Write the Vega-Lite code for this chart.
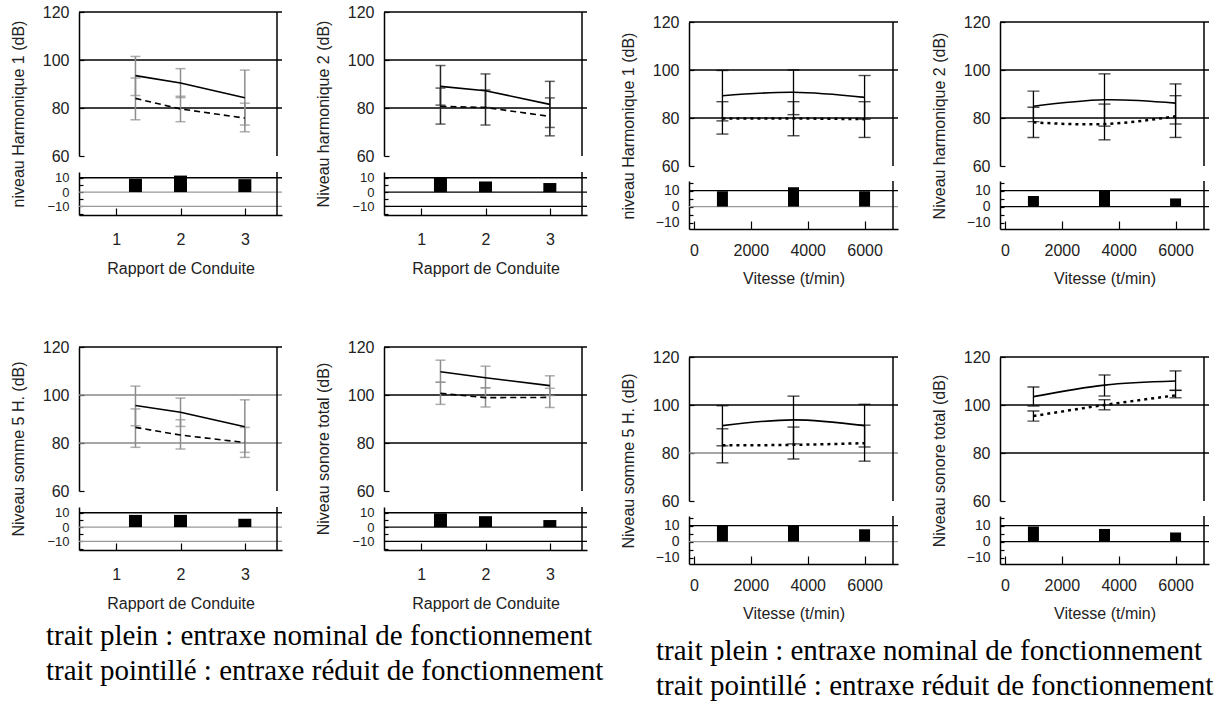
{
"$schema": "https://vega.github.io/schema/vega-lite/v6.json",
"autosize": {"type": "pad"},
"padding": {"left": 10, "top": 4, "right": 0, "bottom": 0},
"background": "white",
"data": {"values": [{}]},
"datasets": {
"mesures": [
{"panneau": "H1_R", "trait": "plein", "x": 1.3, "niveau": 93.5, "bas": 85.2, "haut": 101.5},
{"panneau": "H1_R", "trait": "plein", "x": 2, "niveau": 90.4, "bas": 84.3, "haut": 96.4},
{"panneau": "H1_R", "trait": "plein", "x": 3, "niveau": 84.3, "bas": 72.9, "haut": 95.8},
{"panneau": "H1_R", "trait": "pointillé", "x": 1.3, "niveau": 84, "bas": 75.1, "haut": 92.5},
{"panneau": "H1_R", "trait": "pointillé", "x": 2, "niveau": 79.6, "bas": 74.3, "haut": 84.9},
{"panneau": "H1_R", "trait": "pointillé", "x": 3, "niveau": 75.8, "bas": 70.1, "haut": 82},
{"panneau": "H2_R", "trait": "plein", "x": 1.3, "niveau": 89, "bas": 81.2, "haut": 97.7},
{"panneau": "H2_R", "trait": "plein", "x": 2, "niveau": 87.2, "bas": 80.2, "haut": 94.2},
{"panneau": "H2_R", "trait": "plein", "x": 3, "niveau": 81.5, "bas": 71.9, "haut": 91.1},
{"panneau": "H2_R", "trait": "pointillé", "x": 1.3, "niveau": 80.7, "bas": 73.3, "haut": 88.3},
{"panneau": "H2_R", "trait": "pointillé", "x": 2, "niveau": 80.2, "bas": 72.9, "haut": 87.5},
{"panneau": "H2_R", "trait": "pointillé", "x": 3, "niveau": 76.5, "bas": 68.4, "haut": 84.2},
{"panneau": "S5_R", "trait": "plein", "x": 1.3, "niveau": 95.6, "bas": 87.2, "haut": 103.7},
{"panneau": "S5_R", "trait": "plein", "x": 2, "niveau": 92.8, "bas": 86.9, "haut": 98.7},
{"panneau": "S5_R", "trait": "plein", "x": 3, "niveau": 86.8, "bas": 76.1, "haut": 98},
{"panneau": "S5_R", "trait": "pointillé", "x": 1.3, "niveau": 86.5, "bas": 78.2, "haut": 94.2},
{"panneau": "S5_R", "trait": "pointillé", "x": 2, "niveau": 83.3, "bas": 77.5, "haut": 89.7},
{"panneau": "S5_R", "trait": "pointillé", "x": 3, "niveau": 80.2, "bas": 74, "haut": 86.5},
{"panneau": "T_R", "trait": "plein", "x": 1.3, "niveau": 109.7, "bas": 105.3, "haut": 114.5},
{"panneau": "T_R", "trait": "plein", "x": 2, "niveau": 107.2, "bas": 103, "haut": 112},
{"panneau": "T_R", "trait": "plein", "x": 3, "niveau": 103.9, "bas": 99.8, "haut": 108},
{"panneau": "T_R", "trait": "pointillé", "x": 1.3, "niveau": 100.7, "bas": 96.1, "haut": 105.3},
{"panneau": "T_R", "trait": "pointillé", "x": 2, "niveau": 98.9, "bas": 95, "haut": 103},
{"panneau": "T_R", "trait": "pointillé", "x": 3, "niveau": 99, "bas": 94.8, "haut": 102.8},
{"panneau": "H1_V", "trait": "plein", "x": 1000, "niveau": 89.3, "bas": 78.8, "haut": 99.8},
{"panneau": "H1_V", "trait": "plein", "x": 3500, "niveau": 90.7, "bas": 81.4, "haut": 100},
{"panneau": "H1_V", "trait": "plein", "x": 6000, "niveau": 88.6, "bas": 79.5, "haut": 97.7},
{"panneau": "H1_V", "trait": "pointillé", "x": 1000, "niveau": 79.8, "bas": 73.3, "haut": 86.8},
{"panneau": "H1_V", "trait": "pointillé", "x": 3500, "niveau": 79.8, "bas": 72.6, "haut": 86.8},
{"panneau": "H1_V", "trait": "pointillé", "x": 6000, "niveau": 79.5, "bas": 71.9, "haut": 86.8},
{"panneau": "H2_V", "trait": "plein", "x": 1000, "niveau": 84.9, "bas": 78.5, "haut": 91.2},
{"panneau": "H2_V", "trait": "plein", "x": 3500, "niveau": 87.6, "bas": 76.6, "haut": 98.4},
{"panneau": "H2_V", "trait": "plein", "x": 6000, "niveau": 86.2, "bas": 77.5, "haut": 94.2},
{"panneau": "H2_V", "trait": "pointillé", "x": 1000, "niveau": 78.2, "bas": 71.9, "haut": 84.5},
{"panneau": "H2_V", "trait": "pointillé", "x": 3500, "niveau": 77.5, "bas": 70.9, "haut": 85.8},
{"panneau": "H2_V", "trait": "pointillé", "x": 6000, "niveau": 80.7, "bas": 71.9, "haut": 89.3},
{"panneau": "S5_V", "trait": "plein", "x": 1000, "niveau": 91.4, "bas": 83, "haut": 99.7},
{"panneau": "S5_V", "trait": "plein", "x": 3500, "niveau": 93.8, "bas": 83.8, "haut": 103.7},
{"panneau": "S5_V", "trait": "plein", "x": 6000, "niveau": 91.4, "bas": 82.5, "haut": 100.3},
{"panneau": "S5_V", "trait": "pointillé", "x": 1000, "niveau": 83.2, "bas": 75.9, "haut": 90.1},
{"panneau": "S5_V", "trait": "pointillé", "x": 3500, "niveau": 83.4, "bas": 77.5, "haut": 90.8},
{"panneau": "S5_V", "trait": "pointillé", "x": 6000, "niveau": 84.1, "bas": 76.6, "haut": 91.6},
{"panneau": "T_V", "trait": "plein", "x": 1000, "niveau": 103.5, "bas": 99.6, "haut": 107.5},
{"panneau": "T_V", "trait": "plein", "x": 3500, "niveau": 108.3, "bas": 103.75, "haut": 112.5},
{"panneau": "T_V", "trait": "plein", "x": 6000, "niveau": 110, "bas": 106.1, "haut": 114.2},
{"panneau": "T_V", "trait": "pointillé", "x": 1000, "niveau": 95.4, "bas": 93.3, "haut": 97.5},
{"panneau": "T_V", "trait": "pointillé", "x": 3500, "niveau": 100, "bas": 98, "haut": 102.2},
{"panneau": "T_V", "trait": "pointillé", "x": 6000, "niveau": 104, "bas": 103, "haut": 106.1}
],
"ecarts": [
{"panneau": "H1_R", "x": 1.3, "ecart": 9.3},
{"panneau": "H1_R", "x": 2, "ecart": 11.5},
{"panneau": "H1_R", "x": 3, "ecart": 9.0},
{"panneau": "H2_R", "x": 1.3, "ecart": 9.8},
{"panneau": "H2_R", "x": 2, "ecart": 7.4},
{"panneau": "H2_R", "x": 3, "ecart": 6.3},
{"panneau": "S5_R", "x": 1.3, "ecart": 8.5},
{"panneau": "S5_R", "x": 2, "ecart": 8.5},
{"panneau": "S5_R", "x": 3, "ecart": 5.8},
{"panneau": "T_R", "x": 1.3, "ecart": 9.6},
{"panneau": "T_R", "x": 2, "ecart": 7.6},
{"panneau": "T_R", "x": 3, "ecart": 4.9},
{"panneau": "H1_V", "x": 1000, "ecart": 9.6},
{"panneau": "H1_V", "x": 3500, "ecart": 12.1},
{"panneau": "H1_V", "x": 6000, "ecart": 9.6},
{"panneau": "H2_V", "x": 1000, "ecart": 6.7},
{"panneau": "H2_V", "x": 3500, "ecart": 10},
{"panneau": "H2_V", "x": 6000, "ecart": 5.1},
{"panneau": "S5_V", "x": 1000, "ecart": 9.8},
{"panneau": "S5_V", "x": 3500, "ecart": 9.8},
{"panneau": "S5_V", "x": 6000, "ecart": 7.7},
{"panneau": "T_V", "x": 1000, "ecart": 9.4},
{"panneau": "T_V", "x": 3500, "ecart": 7.9},
{"panneau": "T_V", "x": 6000, "ecart": 5.7}
]
},
"config": {
"view": {"stroke": null},
"axis": {"domainColor": "black", "domainWidth": 1.5, "tickColor": "black", "tickWidth": 1.2, "labelFont": "Liberation Sans", "labelFontSize": 16, "labelColor": "#222", "titleFont": "Liberation Sans", "titleFontSize": 16, "titleFontWeight": "normal", "titleColor": "#222", "grid": false},
"title": {"font": "Liberation Sans", "fontSize": 16, "fontWeight": "normal", "color": "#222"}
},
"columns": 4,
"spacing": {"row": 118, "column": 102},
"bounds": "flush",
"align": "each",
"concat": [
{"width": 203, "height": 203, "resolve": {"scale": {"y": "independent"}, "axis": {"y": "independent"}},
"layer": [
{"layer": [
{"mark": {"type": "rule", "color": "black", "strokeWidth": 1.3}, "encoding": {"y": {"datum": 100, "type": "quantitative", "scale": {"domain": [60, 120], "range": [144, 0], "nice": false, "zero": false}}}},
{"mark": {"type": "rule", "color": "black", "strokeWidth": 1.3}, "encoding": {"y": {"datum": 80, "type": "quantitative", "scale": {"domain": [60, 120], "range": [144, 0], "nice": false, "zero": false}}}},
{"mark": {"type": "rule", "color": "black", "strokeWidth": 1.5}, "encoding": {"y": {"datum": 120, "type": "quantitative", "scale": {"domain": [60, 120], "range": [144, 0], "nice": false, "zero": false}}}},
{"mark": {"type": "rule", "color": "black", "strokeWidth": 1.5}, "encoding": {"x": {"datum": 3.5, "type": "quantitative", "scale": {"domain": [0.5, 3.5], "nice": false, "zero": false}}, "y": {"datum": 60, "type": "quantitative", "scale": {"domain": [60, 120], "range": [144, 0], "nice": false, "zero": false}}, "y2": {"datum": 120}}},
{"data": {"name": "mesures"}, "transform": [{"filter": "datum.panneau === 'H1_R'"}], "mark": {"type": "rule", "color": "#8c8c8c", "strokeWidth": 1.5}, "encoding": {"x": {"field": "x", "type": "quantitative", "scale": {"domain": [0.5, 3.5], "nice": false, "zero": false}}, "y": {"field": "bas", "type": "quantitative", "scale": {"domain": [60, 120], "range": [144, 0], "nice": false, "zero": false}, "axis": {"orient": "left", "values": [60,65,70,75,80,85,90,95,100,105,110,115,120], "format": "d", "labelExpr": "datum.value % 20 === 0 ? datum.label : ''", "tickSize": -5, "labelPadding": 15, "title": "niveau Harmonique 1 (dB)", "titleY": 101.5, "titlePadding": 16, "labelFlush": false, "labelOverlap": false}}, "y2": {"field": "haut"}}},
{"data": {"name": "mesures"}, "transform": [{"filter": "datum.panneau === 'H1_R'"}], "mark": {"type": "tick", "orient": "horizontal", "size": 10, "thickness": 1.5, "color": "#8c8c8c"}, "encoding": {"x": {"field": "x", "type": "quantitative", "scale": {"domain": [0.5, 3.5], "nice": false, "zero": false}}, "y": {"field": "bas", "type": "quantitative", "scale": {"domain": [60, 120], "range": [144, 0], "nice": false, "zero": false}}}},
{"data": {"name": "mesures"}, "transform": [{"filter": "datum.panneau === 'H1_R'"}], "mark": {"type": "tick", "orient": "horizontal", "size": 10, "thickness": 1.5, "color": "#8c8c8c"}, "encoding": {"x": {"field": "x", "type": "quantitative", "scale": {"domain": [0.5, 3.5], "nice": false, "zero": false}}, "y": {"field": "haut", "type": "quantitative", "scale": {"domain": [60, 120], "range": [144, 0], "nice": false, "zero": false}}}},
{"data": {"name": "mesures"}, "transform": [{"filter": "datum.panneau === 'H1_R' && datum.trait === 'plein'"}], "mark": {"type": "line", "color": "black", "strokeWidth": 1.6}, "encoding": {"x": {"field": "x", "type": "quantitative", "scale": {"domain": [0.5, 3.5], "nice": false, "zero": false}}, "y": {"field": "niveau", "type": "quantitative", "scale": {"domain": [60, 120], "range": [144, 0], "nice": false, "zero": false}}}},
{"data": {"name": "mesures"}, "transform": [{"filter": "datum.panneau === 'H1_R' && datum.trait === 'pointillé'"}], "mark": {"type": "line", "color": "black", "strokeWidth": 1.6, "strokeDash": [6, 4]}, "encoding": {"x": {"field": "x", "type": "quantitative", "scale": {"domain": [0.5, 3.5], "nice": false, "zero": false}}, "y": {"field": "niveau", "type": "quantitative", "scale": {"domain": [60, 120], "range": [144, 0], "nice": false, "zero": false}}}}
]},
{"layer": [
{"mark": {"type": "rule", "color": "black", "strokeWidth": 1.3}, "encoding": {"y": {"datum": 10, "type": "quantitative", "scale": {"domain": [-16, 14], "range": [203, 160], "nice": false, "zero": false}}}},
{"mark": {"type": "rule", "color": "#999", "strokeWidth": 1.3}, "encoding": {"y": {"datum": 0, "type": "quantitative", "scale": {"domain": [-16, 14], "range": [203, 160], "nice": false, "zero": false}}}},
{"mark": {"type": "rule", "color": "#999", "strokeWidth": 1.3}, "encoding": {"y": {"datum": -10, "type": "quantitative", "scale": {"domain": [-16, 14], "range": [203, 160], "nice": false, "zero": false}}}},
{"mark": {"type": "rule", "color": "black", "strokeWidth": 1.5}, "encoding": {"x": {"datum": 3.5, "type": "quantitative", "scale": {"domain": [0.5, 3.5], "nice": false, "zero": false}}, "y": {"datum": -16, "type": "quantitative", "scale": {"domain": [-16, 14], "range": [203, 160], "nice": false, "zero": false}}, "y2": {"datum": 14}}},
{"data": {"name": "ecarts"}, "transform": [{"filter": "datum.panneau === 'H1_R'"}], "mark": {"type": "bar", "color": "black", "size": 13}, "encoding": {"x": {"field": "x", "type": "quantitative", "scale": {"domain": [0.5, 3.5], "nice": false, "zero": false}, "axis": {"values": [1, 2, 3], "format": "d", "tickSize": -7, "labelPadding": 23, "title": "Rapport de Conduite", "titlePadding": 13, "labelFlush": false, "labelOverlap": false}}, "y": {"field": "ecart", "type": "quantitative", "scale": {"domain": [-16, 14], "range": [203, 160], "nice": false, "zero": false}, "axis": {"orient": "left", "values": [-15,-12.5,-10,-7.5,-5,-2.5,0,2.5,5,7.5,10,12.5], "format": "d", "labelExpr": "datum.value % 10 === 0 ? datum.label : ''", "labelFontSize": 13, "tickSize": -4, "labelPadding": 14, "title": null, "labelFlush": false, "labelOverlap": false}}}}
]}
]},
{"width": 203, "height": 203, "resolve": {"scale": {"y": "independent"}, "axis": {"y": "independent"}},
"layer": [
{"layer": [
{"mark": {"type": "rule", "color": "black", "strokeWidth": 1.3}, "encoding": {"y": {"datum": 100, "type": "quantitative", "scale": {"domain": [60, 120], "range": [144, 0], "nice": false, "zero": false}}}},
{"mark": {"type": "rule", "color": "black", "strokeWidth": 1.3}, "encoding": {"y": {"datum": 80, "type": "quantitative", "scale": {"domain": [60, 120], "range": [144, 0], "nice": false, "zero": false}}}},
{"mark": {"type": "rule", "color": "black", "strokeWidth": 1.5}, "encoding": {"y": {"datum": 120, "type": "quantitative", "scale": {"domain": [60, 120], "range": [144, 0], "nice": false, "zero": false}}}},
{"mark": {"type": "rule", "color": "black", "strokeWidth": 1.5}, "encoding": {"x": {"datum": 3.5, "type": "quantitative", "scale": {"domain": [0.5, 3.5], "nice": false, "zero": false}}, "y": {"datum": 60, "type": "quantitative", "scale": {"domain": [60, 120], "range": [144, 0], "nice": false, "zero": false}}, "y2": {"datum": 120}}},
{"data": {"name": "mesures"}, "transform": [{"filter": "datum.panneau === 'H2_R'"}], "mark": {"type": "rule", "color": "#222", "strokeWidth": 1.5}, "encoding": {"x": {"field": "x", "type": "quantitative", "scale": {"domain": [0.5, 3.5], "nice": false, "zero": false}}, "y": {"field": "bas", "type": "quantitative", "scale": {"domain": [60, 120], "range": [144, 0], "nice": false, "zero": false}, "axis": {"orient": "left", "values": [60,65,70,75,80,85,90,95,100,105,110,115,120], "format": "d", "labelExpr": "datum.value % 20 === 0 ? datum.label : ''", "tickSize": -5, "labelPadding": 15, "title": "Niveau harmonique 2 (dB)", "titleY": 101.5, "titlePadding": 16, "labelFlush": false, "labelOverlap": false}}, "y2": {"field": "haut"}}},
{"data": {"name": "mesures"}, "transform": [{"filter": "datum.panneau === 'H2_R'"}], "mark": {"type": "tick", "orient": "horizontal", "size": 10, "thickness": 1.5, "color": "#222"}, "encoding": {"x": {"field": "x", "type": "quantitative", "scale": {"domain": [0.5, 3.5], "nice": false, "zero": false}}, "y": {"field": "bas", "type": "quantitative", "scale": {"domain": [60, 120], "range": [144, 0], "nice": false, "zero": false}}}},
{"data": {"name": "mesures"}, "transform": [{"filter": "datum.panneau === 'H2_R'"}], "mark": {"type": "tick", "orient": "horizontal", "size": 10, "thickness": 1.5, "color": "#222"}, "encoding": {"x": {"field": "x", "type": "quantitative", "scale": {"domain": [0.5, 3.5], "nice": false, "zero": false}}, "y": {"field": "haut", "type": "quantitative", "scale": {"domain": [60, 120], "range": [144, 0], "nice": false, "zero": false}}}},
{"data": {"name": "mesures"}, "transform": [{"filter": "datum.panneau === 'H2_R' && datum.trait === 'plein'"}], "mark": {"type": "line", "color": "black", "strokeWidth": 1.6}, "encoding": {"x": {"field": "x", "type": "quantitative", "scale": {"domain": [0.5, 3.5], "nice": false, "zero": false}}, "y": {"field": "niveau", "type": "quantitative", "scale": {"domain": [60, 120], "range": [144, 0], "nice": false, "zero": false}}}},
{"data": {"name": "mesures"}, "transform": [{"filter": "datum.panneau === 'H2_R' && datum.trait === 'pointillé'"}], "mark": {"type": "line", "color": "black", "strokeWidth": 1.6, "strokeDash": [6, 4]}, "encoding": {"x": {"field": "x", "type": "quantitative", "scale": {"domain": [0.5, 3.5], "nice": false, "zero": false}}, "y": {"field": "niveau", "type": "quantitative", "scale": {"domain": [60, 120], "range": [144, 0], "nice": false, "zero": false}}}}
]},
{"layer": [
{"mark": {"type": "rule", "color": "black", "strokeWidth": 1.3}, "encoding": {"y": {"datum": 10, "type": "quantitative", "scale": {"domain": [-16, 14], "range": [203, 160], "nice": false, "zero": false}}}},
{"mark": {"type": "rule", "color": "black", "strokeWidth": 1.3}, "encoding": {"y": {"datum": 0, "type": "quantitative", "scale": {"domain": [-16, 14], "range": [203, 160], "nice": false, "zero": false}}}},
{"mark": {"type": "rule", "color": "black", "strokeWidth": 1.3}, "encoding": {"y": {"datum": -10, "type": "quantitative", "scale": {"domain": [-16, 14], "range": [203, 160], "nice": false, "zero": false}}}},
{"mark": {"type": "rule", "color": "black", "strokeWidth": 1.5}, "encoding": {"x": {"datum": 3.5, "type": "quantitative", "scale": {"domain": [0.5, 3.5], "nice": false, "zero": false}}, "y": {"datum": -16, "type": "quantitative", "scale": {"domain": [-16, 14], "range": [203, 160], "nice": false, "zero": false}}, "y2": {"datum": 14}}},
{"data": {"name": "ecarts"}, "transform": [{"filter": "datum.panneau === 'H2_R'"}], "mark": {"type": "bar", "color": "black", "size": 13}, "encoding": {"x": {"field": "x", "type": "quantitative", "scale": {"domain": [0.5, 3.5], "nice": false, "zero": false}, "axis": {"values": [1, 2, 3], "format": "d", "tickSize": -7, "labelPadding": 23, "title": "Rapport de Conduite", "titlePadding": 13, "labelFlush": false, "labelOverlap": false}}, "y": {"field": "ecart", "type": "quantitative", "scale": {"domain": [-16, 14], "range": [203, 160], "nice": false, "zero": false}, "axis": {"orient": "left", "values": [-15,-12.5,-10,-7.5,-5,-2.5,0,2.5,5,7.5,10,12.5], "format": "d", "labelExpr": "datum.value % 10 === 0 ? datum.label : ''", "labelFontSize": 13, "tickSize": -4, "labelPadding": 14, "title": null, "labelFlush": false, "labelOverlap": false}}}}
]}
]},
{"width": 209, "height": 217, "resolve": {"scale": {"y": "independent"}, "axis": {"y": "independent"}},
"layer": [
{"layer": [
{"mark": {"type": "rule", "color": "black", "strokeWidth": 1.3}, "encoding": {"y": {"datum": 100, "type": "quantitative", "scale": {"domain": [60, 120], "range": [154, 10], "nice": false, "zero": false}}}},
{"mark": {"type": "rule", "color": "black", "strokeWidth": 1.3}, "encoding": {"y": {"datum": 80, "type": "quantitative", "scale": {"domain": [60, 120], "range": [154, 10], "nice": false, "zero": false}}}},
{"mark": {"type": "rule", "color": "black", "strokeWidth": 1.5}, "encoding": {"y": {"datum": 120, "type": "quantitative", "scale": {"domain": [60, 120], "range": [154, 10], "nice": false, "zero": false}}}},
{"mark": {"type": "rule", "color": "black", "strokeWidth": 1.5}, "encoding": {"x": {"datum": 7000, "type": "quantitative", "scale": {"domain": [0, 7000], "nice": false, "zero": false}}, "y": {"datum": 60, "type": "quantitative", "scale": {"domain": [60, 120], "range": [154, 10], "nice": false, "zero": false}}, "y2": {"datum": 120}}},
{"data": {"name": "mesures"}, "transform": [{"filter": "datum.panneau === 'H1_V'"}], "mark": {"type": "rule", "color": "black", "strokeWidth": 1.3}, "encoding": {"x": {"field": "x", "type": "quantitative", "scale": {"domain": [0, 7000], "nice": false, "zero": false}}, "y": {"field": "bas", "type": "quantitative", "scale": {"domain": [60, 120], "range": [154, 10], "nice": false, "zero": false}, "axis": {"orient": "left", "values": [60,65,70,75,80,85,90,95,100,105,110,115,120], "format": "d", "labelExpr": "datum.value % 20 === 0 ? datum.label : ''", "tickSize": -5, "labelPadding": 15, "title": "niveau Harmonique 1 (dB)", "titleY": 113.5, "titlePadding": 16, "labelFlush": false, "labelOverlap": false}}, "y2": {"field": "haut"}}},
{"data": {"name": "mesures"}, "transform": [{"filter": "datum.panneau === 'H1_V'"}], "mark": {"type": "tick", "orient": "horizontal", "size": 12, "thickness": 1.4, "color": "black"}, "encoding": {"x": {"field": "x", "type": "quantitative", "scale": {"domain": [0, 7000], "nice": false, "zero": false}}, "y": {"field": "bas", "type": "quantitative", "scale": {"domain": [60, 120], "range": [154, 10], "nice": false, "zero": false}}}},
{"data": {"name": "mesures"}, "transform": [{"filter": "datum.panneau === 'H1_V'"}], "mark": {"type": "tick", "orient": "horizontal", "size": 12, "thickness": 1.4, "color": "black"}, "encoding": {"x": {"field": "x", "type": "quantitative", "scale": {"domain": [0, 7000], "nice": false, "zero": false}}, "y": {"field": "haut", "type": "quantitative", "scale": {"domain": [60, 120], "range": [154, 10], "nice": false, "zero": false}}}},
{"data": {"name": "mesures"}, "transform": [{"filter": "datum.panneau === 'H1_V' && datum.trait === 'plein'"}], "mark": {"type": "line", "color": "black", "strokeWidth": 1.6, "interpolate": "natural"}, "encoding": {"x": {"field": "x", "type": "quantitative", "scale": {"domain": [0, 7000], "nice": false, "zero": false}}, "y": {"field": "niveau", "type": "quantitative", "scale": {"domain": [60, 120], "range": [154, 10], "nice": false, "zero": false}}}},
{"data": {"name": "mesures"}, "transform": [{"filter": "datum.panneau === 'H1_V' && datum.trait === 'pointillé'"}], "mark": {"type": "line", "color": "black", "strokeWidth": 2.5, "strokeDash": [3, 4], "interpolate": "natural"}, "encoding": {"x": {"field": "x", "type": "quantitative", "scale": {"domain": [0, 7000], "nice": false, "zero": false}}, "y": {"field": "niveau", "type": "quantitative", "scale": {"domain": [60, 120], "range": [154, 10], "nice": false, "zero": false}}}}
]},
{"layer": [
{"mark": {"type": "rule", "color": "black", "strokeWidth": 1.3}, "encoding": {"y": {"datum": 10, "type": "quantitative", "scale": {"domain": [-14, 16], "range": [217, 169], "nice": false, "zero": false}}}},
{"mark": {"type": "rule", "color": "#999", "strokeWidth": 1.3}, "encoding": {"y": {"datum": 0, "type": "quantitative", "scale": {"domain": [-14, 16], "range": [217, 169], "nice": false, "zero": false}}}},
{"mark": {"type": "rule", "color": "black", "strokeWidth": 1.5}, "encoding": {"x": {"datum": 7000, "type": "quantitative", "scale": {"domain": [0, 7000], "nice": false, "zero": false}}, "y": {"datum": -14, "type": "quantitative", "scale": {"domain": [-14, 16], "range": [217, 169], "nice": false, "zero": false}}, "y2": {"datum": 16}}},
{"data": {"name": "ecarts"}, "transform": [{"filter": "datum.panneau === 'H1_V'"}], "mark": {"type": "bar", "color": "black", "size": 11}, "encoding": {"x": {"field": "x", "type": "quantitative", "scale": {"domain": [0, 7000], "nice": false, "zero": false}, "axis": {"values": [0, 2000, 4000, 6000], "format": "d", "tickSize": -8, "labelPadding": 21, "title": "Vitesse (t/min)", "titlePadding": 12, "labelFlush": false, "labelOverlap": false}}, "y": {"field": "ecart", "type": "quantitative", "scale": {"domain": [-14, 16], "range": [217, 169], "nice": false, "zero": false}, "axis": {"orient": "left", "values": [-10,-7.5,-5,-2.5,0,2.5,5,7.5,10,12.5,15], "format": "d", "labelExpr": "datum.value % 10 === 0 ? datum.label : ''", "labelFontSize": 14, "tickSize": -4, "labelPadding": 14, "title": null, "labelFlush": false, "labelOverlap": false}}}}
]}
]},
{"width": 209, "height": 217, "resolve": {"scale": {"y": "independent"}, "axis": {"y": "independent"}},
"layer": [
{"layer": [
{"mark": {"type": "rule", "color": "black", "strokeWidth": 1.3}, "encoding": {"y": {"datum": 100, "type": "quantitative", "scale": {"domain": [60, 120], "range": [154, 10], "nice": false, "zero": false}}}},
{"mark": {"type": "rule", "color": "black", "strokeWidth": 1.3}, "encoding": {"y": {"datum": 80, "type": "quantitative", "scale": {"domain": [60, 120], "range": [154, 10], "nice": false, "zero": false}}}},
{"mark": {"type": "rule", "color": "black", "strokeWidth": 1.5}, "encoding": {"y": {"datum": 120, "type": "quantitative", "scale": {"domain": [60, 120], "range": [154, 10], "nice": false, "zero": false}}}},
{"mark": {"type": "rule", "color": "black", "strokeWidth": 1.5}, "encoding": {"x": {"datum": 7000, "type": "quantitative", "scale": {"domain": [0, 7000], "nice": false, "zero": false}}, "y": {"datum": 60, "type": "quantitative", "scale": {"domain": [60, 120], "range": [154, 10], "nice": false, "zero": false}}, "y2": {"datum": 120}}},
{"data": {"name": "mesures"}, "transform": [{"filter": "datum.panneau === 'H2_V'"}], "mark": {"type": "rule", "color": "black", "strokeWidth": 1.3}, "encoding": {"x": {"field": "x", "type": "quantitative", "scale": {"domain": [0, 7000], "nice": false, "zero": false}}, "y": {"field": "bas", "type": "quantitative", "scale": {"domain": [60, 120], "range": [154, 10], "nice": false, "zero": false}, "axis": {"orient": "left", "values": [60,65,70,75,80,85,90,95,100,105,110,115,120], "format": "d", "labelExpr": "datum.value % 20 === 0 ? datum.label : ''", "tickSize": -5, "labelPadding": 15, "title": "Niveau harmonique 2 (dB)", "titleY": 113.5, "titlePadding": 16, "labelFlush": false, "labelOverlap": false}}, "y2": {"field": "haut"}}},
{"data": {"name": "mesures"}, "transform": [{"filter": "datum.panneau === 'H2_V'"}], "mark": {"type": "tick", "orient": "horizontal", "size": 12, "thickness": 1.4, "color": "black"}, "encoding": {"x": {"field": "x", "type": "quantitative", "scale": {"domain": [0, 7000], "nice": false, "zero": false}}, "y": {"field": "bas", "type": "quantitative", "scale": {"domain": [60, 120], "range": [154, 10], "nice": false, "zero": false}}}},
{"data": {"name": "mesures"}, "transform": [{"filter": "datum.panneau === 'H2_V'"}], "mark": {"type": "tick", "orient": "horizontal", "size": 12, "thickness": 1.4, "color": "black"}, "encoding": {"x": {"field": "x", "type": "quantitative", "scale": {"domain": [0, 7000], "nice": false, "zero": false}}, "y": {"field": "haut", "type": "quantitative", "scale": {"domain": [60, 120], "range": [154, 10], "nice": false, "zero": false}}}},
{"data": {"name": "mesures"}, "transform": [{"filter": "datum.panneau === 'H2_V' && datum.trait === 'plein'"}], "mark": {"type": "line", "color": "black", "strokeWidth": 1.6, "interpolate": "natural"}, "encoding": {"x": {"field": "x", "type": "quantitative", "scale": {"domain": [0, 7000], "nice": false, "zero": false}}, "y": {"field": "niveau", "type": "quantitative", "scale": {"domain": [60, 120], "range": [154, 10], "nice": false, "zero": false}}}},
{"data": {"name": "mesures"}, "transform": [{"filter": "datum.panneau === 'H2_V' && datum.trait === 'pointillé'"}], "mark": {"type": "line", "color": "black", "strokeWidth": 2.5, "strokeDash": [3, 4], "interpolate": "natural"}, "encoding": {"x": {"field": "x", "type": "quantitative", "scale": {"domain": [0, 7000], "nice": false, "zero": false}}, "y": {"field": "niveau", "type": "quantitative", "scale": {"domain": [60, 120], "range": [154, 10], "nice": false, "zero": false}}}}
]},
{"layer": [
{"mark": {"type": "rule", "color": "black", "strokeWidth": 1.3}, "encoding": {"y": {"datum": 10, "type": "quantitative", "scale": {"domain": [-14, 16], "range": [217, 169], "nice": false, "zero": false}}}},
{"mark": {"type": "rule", "color": "black", "strokeWidth": 1.3}, "encoding": {"y": {"datum": 0, "type": "quantitative", "scale": {"domain": [-14, 16], "range": [217, 169], "nice": false, "zero": false}}}},
{"mark": {"type": "rule", "color": "black", "strokeWidth": 1.5}, "encoding": {"x": {"datum": 7000, "type": "quantitative", "scale": {"domain": [0, 7000], "nice": false, "zero": false}}, "y": {"datum": -14, "type": "quantitative", "scale": {"domain": [-14, 16], "range": [217, 169], "nice": false, "zero": false}}, "y2": {"datum": 16}}},
{"data": {"name": "ecarts"}, "transform": [{"filter": "datum.panneau === 'H2_V'"}], "mark": {"type": "bar", "color": "black", "size": 11}, "encoding": {"x": {"field": "x", "type": "quantitative", "scale": {"domain": [0, 7000], "nice": false, "zero": false}, "axis": {"values": [0, 2000, 4000, 6000], "format": "d", "tickSize": -8, "labelPadding": 21, "title": "Vitesse (t/min)", "titlePadding": 12, "labelFlush": false, "labelOverlap": false}}, "y": {"field": "ecart", "type": "quantitative", "scale": {"domain": [-14, 16], "range": [217, 169], "nice": false, "zero": false}, "axis": {"orient": "left", "values": [-10,-7.5,-5,-2.5,0,2.5,5,7.5,10,12.5,15], "format": "d", "labelExpr": "datum.value % 10 === 0 ? datum.label : ''", "labelFontSize": 14, "tickSize": -4, "labelPadding": 14, "title": null, "labelFlush": false, "labelOverlap": false}}}}
]}
]},
{"width": 203, "height": 203, "resolve": {"scale": {"y": "independent"}, "axis": {"y": "independent"}},
"title": {"text": ["trait plein : entraxe nominal de fonctionnement", "trait pointillé : entraxe réduit de fonctionnement"], "orient": "bottom", "anchor": "start", "frame": "group", "font": "Liberation Serif", "fontSize": 29, "fontWeight": "normal", "color": "black", "lineHeight": 35, "dx": -33, "offset": 34, "baseline": "alphabetic"},
"layer": [
{"layer": [
{"mark": {"type": "rule", "color": "#888", "strokeWidth": 1.3}, "encoding": {"y": {"datum": 100, "type": "quantitative", "scale": {"domain": [60, 120], "range": [144, 0], "nice": false, "zero": false}}}},
{"mark": {"type": "rule", "color": "#888", "strokeWidth": 1.3}, "encoding": {"y": {"datum": 80, "type": "quantitative", "scale": {"domain": [60, 120], "range": [144, 0], "nice": false, "zero": false}}}},
{"mark": {"type": "rule", "color": "black", "strokeWidth": 1.5}, "encoding": {"y": {"datum": 120, "type": "quantitative", "scale": {"domain": [60, 120], "range": [144, 0], "nice": false, "zero": false}}}},
{"mark": {"type": "rule", "color": "black", "strokeWidth": 1.5}, "encoding": {"x": {"datum": 3.5, "type": "quantitative", "scale": {"domain": [0.5, 3.5], "nice": false, "zero": false}}, "y": {"datum": 60, "type": "quantitative", "scale": {"domain": [60, 120], "range": [144, 0], "nice": false, "zero": false}}, "y2": {"datum": 120}}},
{"data": {"name": "mesures"}, "transform": [{"filter": "datum.panneau === 'S5_R'"}], "mark": {"type": "rule", "color": "#8c8c8c", "strokeWidth": 1.5}, "encoding": {"x": {"field": "x", "type": "quantitative", "scale": {"domain": [0.5, 3.5], "nice": false, "zero": false}}, "y": {"field": "bas", "type": "quantitative", "scale": {"domain": [60, 120], "range": [144, 0], "nice": false, "zero": false}, "axis": {"orient": "left", "values": [60,65,70,75,80,85,90,95,100,105,110,115,120], "format": "d", "labelExpr": "datum.value % 20 === 0 ? datum.label : ''", "tickSize": -5, "labelPadding": 15, "title": "Niveau somme 5 H. (dB)", "titleY": 101.5, "titlePadding": 16, "labelFlush": false, "labelOverlap": false}}, "y2": {"field": "haut"}}},
{"data": {"name": "mesures"}, "transform": [{"filter": "datum.panneau === 'S5_R'"}], "mark": {"type": "tick", "orient": "horizontal", "size": 10, "thickness": 1.5, "color": "#8c8c8c"}, "encoding": {"x": {"field": "x", "type": "quantitative", "scale": {"domain": [0.5, 3.5], "nice": false, "zero": false}}, "y": {"field": "bas", "type": "quantitative", "scale": {"domain": [60, 120], "range": [144, 0], "nice": false, "zero": false}}}},
{"data": {"name": "mesures"}, "transform": [{"filter": "datum.panneau === 'S5_R'"}], "mark": {"type": "tick", "orient": "horizontal", "size": 10, "thickness": 1.5, "color": "#8c8c8c"}, "encoding": {"x": {"field": "x", "type": "quantitative", "scale": {"domain": [0.5, 3.5], "nice": false, "zero": false}}, "y": {"field": "haut", "type": "quantitative", "scale": {"domain": [60, 120], "range": [144, 0], "nice": false, "zero": false}}}},
{"data": {"name": "mesures"}, "transform": [{"filter": "datum.panneau === 'S5_R' && datum.trait === 'plein'"}], "mark": {"type": "line", "color": "black", "strokeWidth": 1.6}, "encoding": {"x": {"field": "x", "type": "quantitative", "scale": {"domain": [0.5, 3.5], "nice": false, "zero": false}}, "y": {"field": "niveau", "type": "quantitative", "scale": {"domain": [60, 120], "range": [144, 0], "nice": false, "zero": false}}}},
{"data": {"name": "mesures"}, "transform": [{"filter": "datum.panneau === 'S5_R' && datum.trait === 'pointillé'"}], "mark": {"type": "line", "color": "black", "strokeWidth": 1.6, "strokeDash": [6, 4]}, "encoding": {"x": {"field": "x", "type": "quantitative", "scale": {"domain": [0.5, 3.5], "nice": false, "zero": false}}, "y": {"field": "niveau", "type": "quantitative", "scale": {"domain": [60, 120], "range": [144, 0], "nice": false, "zero": false}}}}
]},
{"layer": [
{"mark": {"type": "rule", "color": "black", "strokeWidth": 1.3}, "encoding": {"y": {"datum": 10, "type": "quantitative", "scale": {"domain": [-16, 14], "range": [203, 160], "nice": false, "zero": false}}}},
{"mark": {"type": "rule", "color": "#999", "strokeWidth": 1.3}, "encoding": {"y": {"datum": 0, "type": "quantitative", "scale": {"domain": [-16, 14], "range": [203, 160], "nice": false, "zero": false}}}},
{"mark": {"type": "rule", "color": "#999", "strokeWidth": 1.3}, "encoding": {"y": {"datum": -10, "type": "quantitative", "scale": {"domain": [-16, 14], "range": [203, 160], "nice": false, "zero": false}}}},
{"mark": {"type": "rule", "color": "black", "strokeWidth": 1.5}, "encoding": {"x": {"datum": 3.5, "type": "quantitative", "scale": {"domain": [0.5, 3.5], "nice": false, "zero": false}}, "y": {"datum": -16, "type": "quantitative", "scale": {"domain": [-16, 14], "range": [203, 160], "nice": false, "zero": false}}, "y2": {"datum": 14}}},
{"data": {"name": "ecarts"}, "transform": [{"filter": "datum.panneau === 'S5_R'"}], "mark": {"type": "bar", "color": "black", "size": 13}, "encoding": {"x": {"field": "x", "type": "quantitative", "scale": {"domain": [0.5, 3.5], "nice": false, "zero": false}, "axis": {"values": [1, 2, 3], "format": "d", "tickSize": -7, "labelPadding": 23, "title": "Rapport de Conduite", "titlePadding": 13, "labelFlush": false, "labelOverlap": false}}, "y": {"field": "ecart", "type": "quantitative", "scale": {"domain": [-16, 14], "range": [203, 160], "nice": false, "zero": false}, "axis": {"orient": "left", "values": [-15,-12.5,-10,-7.5,-5,-2.5,0,2.5,5,7.5,10,12.5], "format": "d", "labelExpr": "datum.value % 10 === 0 ? datum.label : ''", "labelFontSize": 13, "tickSize": -4, "labelPadding": 14, "title": null, "labelFlush": false, "labelOverlap": false}}}}
]}
]},
{"width": 203, "height": 203, "resolve": {"scale": {"y": "independent"}, "axis": {"y": "independent"}},
"layer": [
{"layer": [
{"mark": {"type": "rule", "color": "black", "strokeWidth": 1.3}, "encoding": {"y": {"datum": 100, "type": "quantitative", "scale": {"domain": [60, 120], "range": [144, 0], "nice": false, "zero": false}}}},
{"mark": {"type": "rule", "color": "black", "strokeWidth": 1.3}, "encoding": {"y": {"datum": 80, "type": "quantitative", "scale": {"domain": [60, 120], "range": [144, 0], "nice": false, "zero": false}}}},
{"mark": {"type": "rule", "color": "black", "strokeWidth": 1.5}, "encoding": {"y": {"datum": 120, "type": "quantitative", "scale": {"domain": [60, 120], "range": [144, 0], "nice": false, "zero": false}}}},
{"mark": {"type": "rule", "color": "black", "strokeWidth": 1.5}, "encoding": {"x": {"datum": 3.5, "type": "quantitative", "scale": {"domain": [0.5, 3.5], "nice": false, "zero": false}}, "y": {"datum": 60, "type": "quantitative", "scale": {"domain": [60, 120], "range": [144, 0], "nice": false, "zero": false}}, "y2": {"datum": 120}}},
{"data": {"name": "mesures"}, "transform": [{"filter": "datum.panneau === 'T_R'"}], "mark": {"type": "rule", "color": "#8c8c8c", "strokeWidth": 1.5}, "encoding": {"x": {"field": "x", "type": "quantitative", "scale": {"domain": [0.5, 3.5], "nice": false, "zero": false}}, "y": {"field": "bas", "type": "quantitative", "scale": {"domain": [60, 120], "range": [144, 0], "nice": false, "zero": false}, "axis": {"orient": "left", "values": [60,65,70,75,80,85,90,95,100,105,110,115,120], "format": "d", "labelExpr": "datum.value % 20 === 0 ? datum.label : ''", "tickSize": -5, "labelPadding": 15, "title": "Niveau sonore total (dB)", "titleY": 101.5, "titlePadding": 16, "labelFlush": false, "labelOverlap": false}}, "y2": {"field": "haut"}}},
{"data": {"name": "mesures"}, "transform": [{"filter": "datum.panneau === 'T_R'"}], "mark": {"type": "tick", "orient": "horizontal", "size": 10, "thickness": 1.5, "color": "#8c8c8c"}, "encoding": {"x": {"field": "x", "type": "quantitative", "scale": {"domain": [0.5, 3.5], "nice": false, "zero": false}}, "y": {"field": "bas", "type": "quantitative", "scale": {"domain": [60, 120], "range": [144, 0], "nice": false, "zero": false}}}},
{"data": {"name": "mesures"}, "transform": [{"filter": "datum.panneau === 'T_R'"}], "mark": {"type": "tick", "orient": "horizontal", "size": 10, "thickness": 1.5, "color": "#8c8c8c"}, "encoding": {"x": {"field": "x", "type": "quantitative", "scale": {"domain": [0.5, 3.5], "nice": false, "zero": false}}, "y": {"field": "haut", "type": "quantitative", "scale": {"domain": [60, 120], "range": [144, 0], "nice": false, "zero": false}}}},
{"data": {"name": "mesures"}, "transform": [{"filter": "datum.panneau === 'T_R' && datum.trait === 'plein'"}], "mark": {"type": "line", "color": "black", "strokeWidth": 1.6}, "encoding": {"x": {"field": "x", "type": "quantitative", "scale": {"domain": [0.5, 3.5], "nice": false, "zero": false}}, "y": {"field": "niveau", "type": "quantitative", "scale": {"domain": [60, 120], "range": [144, 0], "nice": false, "zero": false}}}},
{"data": {"name": "mesures"}, "transform": [{"filter": "datum.panneau === 'T_R' && datum.trait === 'pointillé'"}], "mark": {"type": "line", "color": "black", "strokeWidth": 1.6, "strokeDash": [6, 4]}, "encoding": {"x": {"field": "x", "type": "quantitative", "scale": {"domain": [0.5, 3.5], "nice": false, "zero": false}}, "y": {"field": "niveau", "type": "quantitative", "scale": {"domain": [60, 120], "range": [144, 0], "nice": false, "zero": false}}}}
]},
{"layer": [
{"mark": {"type": "rule", "color": "black", "strokeWidth": 1.3}, "encoding": {"y": {"datum": 10, "type": "quantitative", "scale": {"domain": [-16, 14], "range": [203, 160], "nice": false, "zero": false}}}},
{"mark": {"type": "rule", "color": "black", "strokeWidth": 1.3}, "encoding": {"y": {"datum": 0, "type": "quantitative", "scale": {"domain": [-16, 14], "range": [203, 160], "nice": false, "zero": false}}}},
{"mark": {"type": "rule", "color": "black", "strokeWidth": 1.3}, "encoding": {"y": {"datum": -10, "type": "quantitative", "scale": {"domain": [-16, 14], "range": [203, 160], "nice": false, "zero": false}}}},
{"mark": {"type": "rule", "color": "black", "strokeWidth": 1.5}, "encoding": {"x": {"datum": 3.5, "type": "quantitative", "scale": {"domain": [0.5, 3.5], "nice": false, "zero": false}}, "y": {"datum": -16, "type": "quantitative", "scale": {"domain": [-16, 14], "range": [203, 160], "nice": false, "zero": false}}, "y2": {"datum": 14}}},
{"data": {"name": "ecarts"}, "transform": [{"filter": "datum.panneau === 'T_R'"}], "mark": {"type": "bar", "color": "black", "size": 13}, "encoding": {"x": {"field": "x", "type": "quantitative", "scale": {"domain": [0.5, 3.5], "nice": false, "zero": false}, "axis": {"values": [1, 2, 3], "format": "d", "tickSize": -7, "labelPadding": 23, "title": "Rapport de Conduite", "titlePadding": 13, "labelFlush": false, "labelOverlap": false}}, "y": {"field": "ecart", "type": "quantitative", "scale": {"domain": [-16, 14], "range": [203, 160], "nice": false, "zero": false}, "axis": {"orient": "left", "values": [-15,-12.5,-10,-7.5,-5,-2.5,0,2.5,5,7.5,10,12.5], "format": "d", "labelExpr": "datum.value % 10 === 0 ? datum.label : ''", "labelFontSize": 13, "tickSize": -4, "labelPadding": 14, "title": null, "labelFlush": false, "labelOverlap": false}}}}
]}
]},
{"width": 209, "height": 217, "resolve": {"scale": {"y": "independent"}, "axis": {"y": "independent"}},
"title": {"text": ["trait plein : entraxe nominal de fonctionnement", "trait pointillé : entraxe réduit de fonctionnement"], "orient": "bottom", "anchor": "start", "frame": "group", "font": "Liberation Serif", "fontSize": 29, "fontWeight": "normal", "color": "black", "lineHeight": 35, "dx": -33, "offset": 39, "baseline": "alphabetic"},
"layer": [
{"layer": [
{"mark": {"type": "rule", "color": "black", "strokeWidth": 1.3}, "encoding": {"y": {"datum": 100, "type": "quantitative", "scale": {"domain": [60, 120], "range": [154, 10], "nice": false, "zero": false}}}},
{"mark": {"type": "rule", "color": "#888", "strokeWidth": 1.3}, "encoding": {"y": {"datum": 80, "type": "quantitative", "scale": {"domain": [60, 120], "range": [154, 10], "nice": false, "zero": false}}}},
{"mark": {"type": "rule", "color": "black", "strokeWidth": 1.5}, "encoding": {"y": {"datum": 120, "type": "quantitative", "scale": {"domain": [60, 120], "range": [154, 10], "nice": false, "zero": false}}}},
{"mark": {"type": "rule", "color": "black", "strokeWidth": 1.5}, "encoding": {"x": {"datum": 7000, "type": "quantitative", "scale": {"domain": [0, 7000], "nice": false, "zero": false}}, "y": {"datum": 60, "type": "quantitative", "scale": {"domain": [60, 120], "range": [154, 10], "nice": false, "zero": false}}, "y2": {"datum": 120}}},
{"data": {"name": "mesures"}, "transform": [{"filter": "datum.panneau === 'S5_V'"}], "mark": {"type": "rule", "color": "black", "strokeWidth": 1.3}, "encoding": {"x": {"field": "x", "type": "quantitative", "scale": {"domain": [0, 7000], "nice": false, "zero": false}}, "y": {"field": "bas", "type": "quantitative", "scale": {"domain": [60, 120], "range": [154, 10], "nice": false, "zero": false}, "axis": {"orient": "left", "values": [60,65,70,75,80,85,90,95,100,105,110,115,120], "format": "d", "labelExpr": "datum.value % 20 === 0 ? datum.label : ''", "tickSize": -5, "labelPadding": 15, "title": "Niveau somme 5 H. (dB)", "titleY": 113.5, "titlePadding": 16, "labelFlush": false, "labelOverlap": false}}, "y2": {"field": "haut"}}},
{"data": {"name": "mesures"}, "transform": [{"filter": "datum.panneau === 'S5_V'"}], "mark": {"type": "tick", "orient": "horizontal", "size": 12, "thickness": 1.4, "color": "black"}, "encoding": {"x": {"field": "x", "type": "quantitative", "scale": {"domain": [0, 7000], "nice": false, "zero": false}}, "y": {"field": "bas", "type": "quantitative", "scale": {"domain": [60, 120], "range": [154, 10], "nice": false, "zero": false}}}},
{"data": {"name": "mesures"}, "transform": [{"filter": "datum.panneau === 'S5_V'"}], "mark": {"type": "tick", "orient": "horizontal", "size": 12, "thickness": 1.4, "color": "black"}, "encoding": {"x": {"field": "x", "type": "quantitative", "scale": {"domain": [0, 7000], "nice": false, "zero": false}}, "y": {"field": "haut", "type": "quantitative", "scale": {"domain": [60, 120], "range": [154, 10], "nice": false, "zero": false}}}},
{"data": {"name": "mesures"}, "transform": [{"filter": "datum.panneau === 'S5_V' && datum.trait === 'plein'"}], "mark": {"type": "line", "color": "black", "strokeWidth": 1.6, "interpolate": "natural"}, "encoding": {"x": {"field": "x", "type": "quantitative", "scale": {"domain": [0, 7000], "nice": false, "zero": false}}, "y": {"field": "niveau", "type": "quantitative", "scale": {"domain": [60, 120], "range": [154, 10], "nice": false, "zero": false}}}},
{"data": {"name": "mesures"}, "transform": [{"filter": "datum.panneau === 'S5_V' && datum.trait === 'pointillé'"}], "mark": {"type": "line", "color": "black", "strokeWidth": 2.5, "strokeDash": [3, 4], "interpolate": "natural"}, "encoding": {"x": {"field": "x", "type": "quantitative", "scale": {"domain": [0, 7000], "nice": false, "zero": false}}, "y": {"field": "niveau", "type": "quantitative", "scale": {"domain": [60, 120], "range": [154, 10], "nice": false, "zero": false}}}}
]},
{"layer": [
{"mark": {"type": "rule", "color": "black", "strokeWidth": 1.3}, "encoding": {"y": {"datum": 10, "type": "quantitative", "scale": {"domain": [-14, 16], "range": [217, 169], "nice": false, "zero": false}}}},
{"mark": {"type": "rule", "color": "#999", "strokeWidth": 1.3}, "encoding": {"y": {"datum": 0, "type": "quantitative", "scale": {"domain": [-14, 16], "range": [217, 169], "nice": false, "zero": false}}}},
{"mark": {"type": "rule", "color": "black", "strokeWidth": 1.5}, "encoding": {"x": {"datum": 7000, "type": "quantitative", "scale": {"domain": [0, 7000], "nice": false, "zero": false}}, "y": {"datum": -14, "type": "quantitative", "scale": {"domain": [-14, 16], "range": [217, 169], "nice": false, "zero": false}}, "y2": {"datum": 16}}},
{"data": {"name": "ecarts"}, "transform": [{"filter": "datum.panneau === 'S5_V'"}], "mark": {"type": "bar", "color": "black", "size": 11}, "encoding": {"x": {"field": "x", "type": "quantitative", "scale": {"domain": [0, 7000], "nice": false, "zero": false}, "axis": {"values": [0, 2000, 4000, 6000], "format": "d", "tickSize": -8, "labelPadding": 21, "title": "Vitesse (t/min)", "titlePadding": 12, "labelFlush": false, "labelOverlap": false}}, "y": {"field": "ecart", "type": "quantitative", "scale": {"domain": [-14, 16], "range": [217, 169], "nice": false, "zero": false}, "axis": {"orient": "left", "values": [-10,-7.5,-5,-2.5,0,2.5,5,7.5,10,12.5,15], "format": "d", "labelExpr": "datum.value % 10 === 0 ? datum.label : ''", "labelFontSize": 14, "tickSize": -4, "labelPadding": 14, "title": null, "labelFlush": false, "labelOverlap": false}}}}
]}
]},
{"width": 209, "height": 217, "resolve": {"scale": {"y": "independent"}, "axis": {"y": "independent"}},
"layer": [
{"layer": [
{"mark": {"type": "rule", "color": "black", "strokeWidth": 1.3}, "encoding": {"y": {"datum": 100, "type": "quantitative", "scale": {"domain": [60, 120], "range": [154, 10], "nice": false, "zero": false}}}},
{"mark": {"type": "rule", "color": "black", "strokeWidth": 1.3}, "encoding": {"y": {"datum": 80, "type": "quantitative", "scale": {"domain": [60, 120], "range": [154, 10], "nice": false, "zero": false}}}},
{"mark": {"type": "rule", "color": "black", "strokeWidth": 1.5}, "encoding": {"y": {"datum": 120, "type": "quantitative", "scale": {"domain": [60, 120], "range": [154, 10], "nice": false, "zero": false}}}},
{"mark": {"type": "rule", "color": "black", "strokeWidth": 1.5}, "encoding": {"x": {"datum": 7000, "type": "quantitative", "scale": {"domain": [0, 7000], "nice": false, "zero": false}}, "y": {"datum": 60, "type": "quantitative", "scale": {"domain": [60, 120], "range": [154, 10], "nice": false, "zero": false}}, "y2": {"datum": 120}}},
{"data": {"name": "mesures"}, "transform": [{"filter": "datum.panneau === 'T_V'"}], "mark": {"type": "rule", "color": "black", "strokeWidth": 1.3}, "encoding": {"x": {"field": "x", "type": "quantitative", "scale": {"domain": [0, 7000], "nice": false, "zero": false}}, "y": {"field": "bas", "type": "quantitative", "scale": {"domain": [60, 120], "range": [154, 10], "nice": false, "zero": false}, "axis": {"orient": "left", "values": [60,65,70,75,80,85,90,95,100,105,110,115,120], "format": "d", "labelExpr": "datum.value % 20 === 0 ? datum.label : ''", "tickSize": -5, "labelPadding": 15, "title": "Niveau sonore total (dB)", "titleY": 113.5, "titlePadding": 16, "labelFlush": false, "labelOverlap": false}}, "y2": {"field": "haut"}}},
{"data": {"name": "mesures"}, "transform": [{"filter": "datum.panneau === 'T_V'"}], "mark": {"type": "tick", "orient": "horizontal", "size": 12, "thickness": 1.4, "color": "black"}, "encoding": {"x": {"field": "x", "type": "quantitative", "scale": {"domain": [0, 7000], "nice": false, "zero": false}}, "y": {"field": "bas", "type": "quantitative", "scale": {"domain": [60, 120], "range": [154, 10], "nice": false, "zero": false}}}},
{"data": {"name": "mesures"}, "transform": [{"filter": "datum.panneau === 'T_V'"}], "mark": {"type": "tick", "orient": "horizontal", "size": 12, "thickness": 1.4, "color": "black"}, "encoding": {"x": {"field": "x", "type": "quantitative", "scale": {"domain": [0, 7000], "nice": false, "zero": false}}, "y": {"field": "haut", "type": "quantitative", "scale": {"domain": [60, 120], "range": [154, 10], "nice": false, "zero": false}}}},
{"data": {"name": "mesures"}, "transform": [{"filter": "datum.panneau === 'T_V' && datum.trait === 'plein'"}], "mark": {"type": "line", "color": "black", "strokeWidth": 1.6, "interpolate": "natural"}, "encoding": {"x": {"field": "x", "type": "quantitative", "scale": {"domain": [0, 7000], "nice": false, "zero": false}}, "y": {"field": "niveau", "type": "quantitative", "scale": {"domain": [60, 120], "range": [154, 10], "nice": false, "zero": false}}}},
{"data": {"name": "mesures"}, "transform": [{"filter": "datum.panneau === 'T_V' && datum.trait === 'pointillé'"}], "mark": {"type": "line", "color": "black", "strokeWidth": 2.5, "strokeDash": [3, 4], "interpolate": "natural"}, "encoding": {"x": {"field": "x", "type": "quantitative", "scale": {"domain": [0, 7000], "nice": false, "zero": false}}, "y": {"field": "niveau", "type": "quantitative", "scale": {"domain": [60, 120], "range": [154, 10], "nice": false, "zero": false}}}}
]},
{"layer": [
{"mark": {"type": "rule", "color": "black", "strokeWidth": 1.3}, "encoding": {"y": {"datum": 10, "type": "quantitative", "scale": {"domain": [-14, 16], "range": [217, 169], "nice": false, "zero": false}}}},
{"mark": {"type": "rule", "color": "black", "strokeWidth": 1.3}, "encoding": {"y": {"datum": 0, "type": "quantitative", "scale": {"domain": [-14, 16], "range": [217, 169], "nice": false, "zero": false}}}},
{"mark": {"type": "rule", "color": "black", "strokeWidth": 1.5}, "encoding": {"x": {"datum": 7000, "type": "quantitative", "scale": {"domain": [0, 7000], "nice": false, "zero": false}}, "y": {"datum": -14, "type": "quantitative", "scale": {"domain": [-14, 16], "range": [217, 169], "nice": false, "zero": false}}, "y2": {"datum": 16}}},
{"data": {"name": "ecarts"}, "transform": [{"filter": "datum.panneau === 'T_V'"}], "mark": {"type": "bar", "color": "black", "size": 11}, "encoding": {"x": {"field": "x", "type": "quantitative", "scale": {"domain": [0, 7000], "nice": false, "zero": false}, "axis": {"values": [0, 2000, 4000, 6000], "format": "d", "tickSize": -8, "labelPadding": 21, "title": "Vitesse (t/min)", "titlePadding": 12, "labelFlush": false, "labelOverlap": false}}, "y": {"field": "ecart", "type": "quantitative", "scale": {"domain": [-14, 16], "range": [217, 169], "nice": false, "zero": false}, "axis": {"orient": "left", "values": [-10,-7.5,-5,-2.5,0,2.5,5,7.5,10,12.5,15], "format": "d", "labelExpr": "datum.value % 10 === 0 ? datum.label : ''", "labelFontSize": 14, "tickSize": -4, "labelPadding": 14, "title": null, "labelFlush": false, "labelOverlap": false}}}}
]}
]}
]
}
